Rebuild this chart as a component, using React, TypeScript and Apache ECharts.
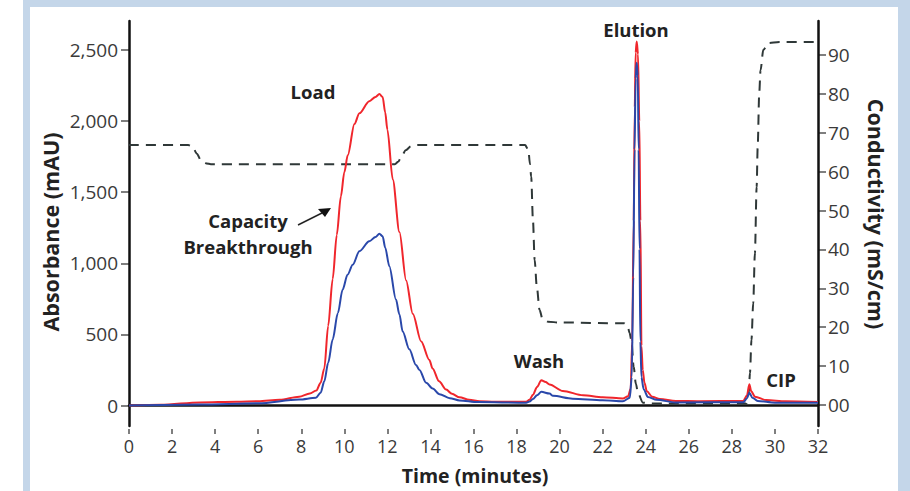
import React, { useEffect, useRef } from "react";
import * as echarts from "echarts";

// ---- Data ----
const redTime = [0, 1.5, 3.3, 5, 6, 7, 7.9, 8.4, 8.7, 8.9, 9.07, 9.25, 9.46, 9.65, 9.84, 10.0, 10.16, 10.47, 10.7, 11.16, 11.45, 11.63, 11.78, 11.9, 12.0, 12.25, 12.56, 12.87, 13.18, 13.57, 13.95, 14.1, 14.4, 14.73, 15.0, 15.35, 15.8, 16.28, 17, 18.45, 18.6, 18.76, 18.95, 19.15, 19.35, 19.53, 20.15, 21.09, 22.0, 22.94, 23.18, 23.3, 23.37, 23.44, 23.49, 23.53, 23.58, 23.64, 23.7, 23.75, 23.8, 23.86, 23.94, 24.05, 24.3, 24.65, 25.4, 26.5, 28.53, 28.7, 28.81, 28.9, 29.07, 29.6, 30.5, 32];
const redAbs = [0, 5, 22, 27, 30, 40, 62, 85, 105, 160, 260, 560, 890, 1200, 1470, 1640, 1760, 1980, 2055, 2140, 2170, 2190, 2170, 2060, 1940, 1590, 1220, 880, 645, 450, 320, 260, 170, 112, 82, 58, 40, 30, 27, 27, 40, 75, 130, 178, 165, 148, 102, 72, 58, 50, 65, 120, 450, 1300, 2100, 2480, 2560, 2470, 2000, 1300, 420, 250, 160, 100, 62, 45, 32, 30, 32, 70, 150, 100, 62, 38, 30, 25];

const blueTime = [0, 3.3, 6, 7.9, 8.68, 8.9, 9.07, 9.25, 9.46, 9.7, 9.92, 10.15, 10.39, 10.7, 11.16, 11.45, 11.63, 11.78, 11.9, 12.09, 12.4, 12.56, 12.71, 13.02, 13.33, 13.49, 13.8, 14.1, 14.42, 14.9, 15.35, 16.2, 18.45, 18.6, 18.76, 18.95, 19.15, 19.53, 19.69, 20.6, 22.0, 22.94, 23.26, 23.35, 23.42, 23.48, 23.53, 23.58, 23.63, 23.67, 23.71, 23.75, 23.8, 23.9, 24.1, 24.5, 25.4, 28.53, 28.7, 28.81, 28.95, 29.2, 30, 32];
const blueAbs = [0, 7, 16, 42, 54, 90, 170, 300, 465, 650, 815, 920, 990, 1085, 1155, 1185, 1208, 1190, 1110, 980, 745, 640, 520, 395, 285, 250, 160, 120, 80, 52, 36, 24, 20, 28, 45, 72, 96, 84, 68, 48, 37, 30, 55, 200, 900, 1800, 2300, 2410, 2320, 1800, 1100, 450, 200, 115, 60, 40, 22, 23, 50, 90, 55, 32, 20, 19];

const condTime = [0, 2.75, 2.95, 3.15, 3.35, 3.6, 3.8, 12.35, 12.5, 12.65, 12.85, 13.1, 13.4, 18.4, 18.55, 18.62, 18.68, 18.76, 18.84, 18.94, 19.07, 19.2, 19.46, 20, 23.0, 23.15, 23.25, 23.33, 23.44, 23.54, 23.64, 23.87, 24.2, 28.68, 28.78, 28.84, 28.91, 28.99, 29.07, 29.15, 29.2, 29.27, 29.33, 29.46, 29.69, 30.2, 32];
const condValue = [66.8, 66.8, 66.4, 64.6, 62.8, 62.1, 61.9, 61.9, 62.5, 63.8, 65.5, 66.5, 66.8, 66.8, 65.5, 62, 58.7, 47.6, 37.3, 30.4, 24.4, 22.2, 21.4, 21.2, 21, 20.5, 18.5, 16.7, 9.8, 5.5, 3, 0.6, 0.4, 0.4, 3, 8.2, 16.7, 26.1, 39, 56, 66.6, 80, 86, 91.3, 93, 93.3, 93.3];

// axis ranges / ticks
const timeMin = 0;
const timeMax = 32;
const timeStep = 2;
const absTickMax = 2500;
const absStep = 500;
const condTickMax = 90;
const condStep = 10;

const FONT = "Open Sans";
const TICK_COLOR = "#3a3a3a";
const TEXT_COLOR = "#222";
const FRAME = "#c4d6e9";
const AXIS_COLOR = "#111";
const TICK_LINE = "#555";

function pairs(xs: number[], ys: number[]) {
  return xs.map((x, i) => [x, ys[i]]);
}

export default function App() {
  const ref = useRef<HTMLDivElement>(null);
  useEffect(() => {
    if (!ref.current) return;
    const chart = echarts.init(ref.current, undefined, { renderer: "svg" });
    const boldText = (text: string, x: number, y: number, size = 18.5) => ({
      type: "text",
      x,
      y,
      style: {
        text,
        fill: TEXT_COLOR,
        font: `bold ${size}px "${FONT}"`,
        textAlign: "center",
        textVerticalAlign: "middle",
      },
      z: 100,
    });
    const tickLabel = {
      color: TICK_COLOR,
      fontFamily: FONT,
      fontSize: 19,
    };
    const off = { show: false };
    const hiddenValue = (gridIndex: number, min: number, max: number) => ({
      type: "value",
      gridIndex,
      min,
      max,
      axisLine: off,
      axisTick: off,
      axisLabel: off,
      splitLine: off,
    });
    const tickSplit = { show: true, lineStyle: { color: TICK_LINE, width: 1.5 } };
    chart.setOption({
      animation: false,
      backgroundColor: "#ffffff",
      grid: [
        // 0: main plotting box
        { left: 129, right: 92, top: 21, bottom: 65 },
        // 1: left tick marks (0 .. 2500), 8px wide strip left of the axis
        { left: 121, width: 8, top: 50, height: 355.5 },
        // 2: right tick marks (0 .. 90), 8px strip right of the axis
        { left: 818, width: 8, top: 55, height: 350 },
        // 3: x tick marks, detached strip below the box
        { left: 129, right: 92, top: 429, height: 5 },
      ],
      xAxis: [
        {
          type: "value",
          gridIndex: 0,
          min: timeMin,
          max: timeMax,
          position: "bottom",
          axisLine: { show: true, lineStyle: { color: AXIS_COLOR, width: 2.5 } },
          axisTick: off,
          axisLabel: off,
          splitLine: off,
        },
        hiddenValue(1, 0, 1),
        hiddenValue(2, 0, 1),
        {
          type: "value",
          gridIndex: 3,
          min: timeMin,
          max: timeMax,
          interval: timeStep,
          position: "bottom",
          axisLine: off,
          axisTick: off,
          axisLabel: { show: true, margin: 3, ...tickLabel, fontSize: 18 },
          splitLine: tickSplit,
        },
      ],
      yAxis: [
        {
          type: "value",
          gridIndex: 0,
          min: -144,
          max: 2704,
          position: "left",
          axisLine: { show: true, lineStyle: { color: AXIS_COLOR, width: 2.5 } },
          axisTick: off,
          axisLabel: off,
          splitLine: off,
        },
        {
          type: "value",
          gridIndex: 0,
          min: -5.4,
          max: 98.7,
          position: "right",
          axisLine: { show: true, lineStyle: { color: AXIS_COLOR, width: 2.5 } },
          axisTick: off,
          axisLabel: off,
          splitLine: off,
        },
        {
          type: "value",
          gridIndex: 1,
          min: 0,
          max: absTickMax,
          interval: absStep,
          position: "left",
          axisLine: off,
          axisTick: off,
          axisLabel: {
            show: true,
            margin: 3,
            ...tickLabel,
            formatter: (v: number) => v.toLocaleString("en-US"),
          },
          splitLine: tickSplit,
        },
        {
          type: "value",
          gridIndex: 2,
          min: 0,
          max: condTickMax,
          interval: condStep,
          position: "right",
          axisLine: off,
          axisTick: off,
          axisLabel: {
            show: true,
            margin: 2,
            ...tickLabel,
            formatter: (v: number) => (v === 0 ? "00" : String(v)),
          },
          splitLine: tickSplit,
        },
        hiddenValue(3, 0, 1),
      ],
      series: [
        {
          name: "Conductivity",
          type: "line",
          xAxisIndex: 0,
          yAxisIndex: 1,
          data: pairs(condTime, condValue),
          showSymbol: false,
          smooth: 0.3,
          smoothMonotone: "x",
          lineStyle: { color: "#2f3838", width: 2, type: [10, 7] },
          z: 2,
        },
        {
          name: "Absorbance A",
          type: "line",
          xAxisIndex: 0,
          yAxisIndex: 0,
          data: pairs(redTime, redAbs),
          showSymbol: false,
          smooth: 0.3,
          smoothMonotone: "x",
          lineStyle: { color: "#f0262c", width: 2 },
          z: 3,
        },
        {
          name: "Absorbance B",
          type: "line",
          xAxisIndex: 0,
          yAxisIndex: 0,
          data: pairs(blueTime, blueAbs),
          showSymbol: false,
          smooth: 0.3,
          smoothMonotone: "x",
          lineStyle: { color: "#2a48aa", width: 2 },
          z: 4,
        },
      ],
      graphic: [
        { type: "rect", shape: { x: 23, y: 0, width: 887, height: 7 }, style: { fill: FRAME }, silent: true },
        { type: "rect", shape: { x: 23, y: 0, width: 7, height: 491 }, style: { fill: FRAME }, silent: true },
        { type: "rect", shape: { x: 898, y: 0, width: 12, height: 491 }, style: { fill: FRAME }, silent: true },
        boldText("Time (minutes)", 475, 475, 19.5),
        {
          type: "text",
          x: 50,
          y: 232,
          rotation: Math.PI / 2,
          style: {
            text: "Absorbance (mAU)",
            fill: TEXT_COLOR,
            font: `bold 21.5px "${FONT}"`,
            textAlign: "center",
            textVerticalAlign: "middle",
          },
          z: 100,
        },
        {
          type: "text",
          x: 876,
          y: 214,
          rotation: -Math.PI / 2,
          style: {
            text: "Conductivity (mS/cm)",
            fill: TEXT_COLOR,
            font: `bold 21.5px "${FONT}"`,
            textAlign: "center",
            textVerticalAlign: "middle",
          },
          z: 100,
        },
        boldText("Load", 313, 91),
        boldText("Capacity", 248, 220),
        boldText("Breakthrough", 248, 246),
        boldText("Wash", 539, 360),
        boldText("Elution", 636, 29),
        boldText("CIP", 781, 379),
        {
          type: "line",
          shape: { x1: 298, y1: 225, x2: 322, y2: 213 },
          style: { stroke: "#222", lineWidth: 1.5 },
          z: 100,
        },
        {
          type: "polygon",
          shape: { points: [[318, 209], [331, 208], [325, 217]] },
          style: { fill: "#111" },
          z: 100,
        },
      ],
    });
    return () => chart.dispose();
  }, []);
  return (
    <div
      ref={ref}
      style={{ position: "fixed", left: 0, top: 0, width: 910, height: 491 }}
    />
  );
}
